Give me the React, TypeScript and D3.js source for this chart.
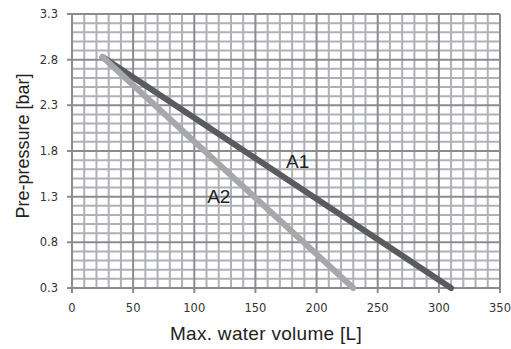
import React from "react";
import * as d3 from "d3";

const xTicks = [0, 50, 100, 150, 200, 250, 300, 350];
const yTicks = [0.3, 0.8, 1.3, 1.8, 2.3, 2.8, 3.3];
const seriesNames = ["A1", "A2"];
const a1X = [25, 310];
const a1Y = [2.83, 0.3];
const a2X = [25, 230];
const a2Y = [2.83, 0.3];
const labelPos = [
  { name: "A1", x: 175, y: 1.61 },
  { name: "A2", x: 110.5, y: 1.23 },
];

export default function App() {
  const W = 511, H = 349;
  const x = d3.scaleLinear().domain([0, 350]).range([72, 500]);
  const y = d3.scaleLinear().domain([0.3, 3.3]).range([288, 14]);
  const minorX = d3.range(0, 351, 10);
  const minorY = d3.range(0, 31).map((i) => +(0.3 + i * 0.1).toFixed(2));
  const line = d3.line<[number, number]>().x((d) => x(d[0])).y((d) => y(d[1]));
  const series = [
    { name: seriesNames[0], pts: a1X.map((v, i) => [v, a1Y[i]] as [number, number]), color: "#5a5b5d" },
    { name: seriesNames[1], pts: a2X.map((v, i) => [v, a2Y[i]] as [number, number]), color: "#a7a8aa" },
  ];
  const isMajorX = (v: number) => v % 50 === 0;
  const isMajorY = (v: number) => yTicks.some((t) => Math.abs(t - v) < 1e-6);
  return (
    <svg width={W} height={H} style={{ position: "absolute", left: 0, top: 0, background: "#fff" }}>
      <rect x={0} y={0} width={W} height={H} fill="#fff" />
      {minorX.filter((v) => !isMajorX(v)).map((v) => (
        <line key={"mx" + v} x1={x(v)} x2={x(v)} y1={y(3.3)} y2={y(0.3)} stroke="#afb1b7" strokeWidth={2} />
      ))}
      {minorY.filter((v) => !isMajorY(v)).map((v) => (
        <line key={"my" + v} x1={x(0)} x2={x(350)} y1={y(v)} y2={y(v)} stroke="#afb1b7" strokeWidth={2} />
      ))}
      {xTicks.map((v) => (
        <line key={"Mx" + v} x1={x(v)} x2={x(v)} y1={y(3.3)} y2={y(0.3) + 5} stroke="#8b8b90" strokeWidth={2} />
      ))}
      {yTicks.map((v) => (
        <line key={"My" + v} x1={x(0) - 5} x2={x(350)} y1={y(v)} y2={y(v)} stroke="#8b8b90" strokeWidth={2} />
      ))}
      {series.map((s) => (
        <path key={s.name} d={line(s.pts) || ""} fill="none" stroke={s.color} strokeWidth={6} strokeLinecap="round" />
      ))}
      {labelPos.map((l) => (
        <text key={l.name} x={x(l.x)} y={y(l.y)} fontFamily="Liberation Sans, Arial, sans-serif" fontSize={19} fill="#222">{l.name}</text>
      ))}
      {yTicks.map((v) => (
        <text key={"yl" + v} x={58} y={y(v) + 4} textAnchor="end" fontFamily="DejaVu Sans, sans-serif" fontSize={11.5} fill="#333">{v.toFixed(1)}</text>
      ))}
      {xTicks.map((v) => (
        <text key={"xl" + v} x={x(v)} y={312} textAnchor="middle" fontFamily="DejaVu Sans, sans-serif" fontSize={11.5} fill="#333">{v}</text>
      ))}
      <text x={266} y={340} textAnchor="middle" fontFamily="Liberation Sans, Arial, sans-serif" fontSize={19} letterSpacing={0.3} fill="#222">Max. water volume [L]</text>
      <text transform={`translate(29,${146}) rotate(-90)`} textAnchor="middle" fontFamily="Liberation Sans, Arial, sans-serif" fontSize={18} fill="#222">Pre-pressure [bar]</text>
    </svg>
  );
}
